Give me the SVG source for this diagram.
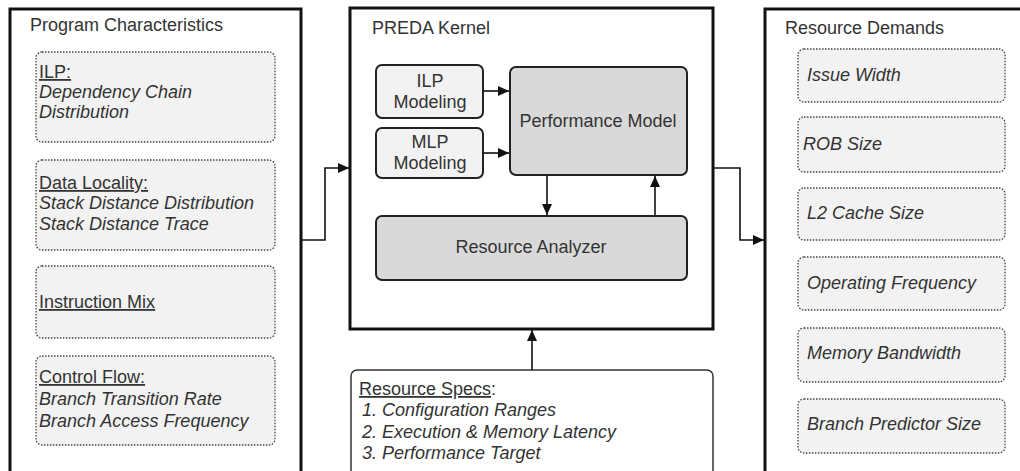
<svg xmlns="http://www.w3.org/2000/svg" width="1020" height="471" viewBox="0 0 1020 471">
  <style>
    text { font-family: "Liberation Sans", Arial, sans-serif; font-size: 18px; fill: #333; }
    .it { font-style: italic; }
    .ul { text-decoration: underline; }
    .mid { text-anchor: middle; }
    .panel { fill: #fff; stroke: #111; stroke-width: 3; }
    .item { fill: #f2f2f2; stroke: #444; stroke-width: 1.3; stroke-dasharray: 1.5 1.5; }
    .sub { fill: #f2f2f2; stroke: #222; stroke-width: 2; }
    .core { fill: #d9d9d9; stroke: #222; stroke-width: 2; }
    .spec { fill: #fff; stroke: #333; stroke-width: 1.5; }
    .wire { fill: none; stroke: #111; stroke-width: 1.6; }
  </style>
  <defs>
    <marker id="arrow" markerUnits="userSpaceOnUse" markerWidth="12" markerHeight="10" refX="11" refY="5" orient="auto">
      <path d="M0,0 L11,5 L0,10 Z" fill="#111"/>
    </marker>
  </defs>

  <rect width="1020" height="471" fill="#fff"/>

  <!-- Program Characteristics panel -->
  <g id="program-characteristics">
    <rect class="panel" x="10" y="9" width="291" height="480"/>
    <text x="30" y="31">Program Characteristics</text>
  </g>
  <g id="ilp">
    <rect class="item" x="36" y="52" width="239" height="90" rx="6"/>
    <text class="ul" x="39" y="78">ILP:</text>
    <text class="it" x="39" y="98">Dependency Chain</text>
    <text class="it" x="39" y="118">Distribution</text>
  </g>
  <g id="data-locality">
    <rect class="item" x="36" y="160" width="239" height="90" rx="6"/>
    <text class="ul" x="39" y="189">Data Locality:</text>
    <text class="it" x="39" y="209">Stack Distance Distribution</text>
    <text class="it" x="39" y="230">Stack Distance Trace</text>
  </g>
  <g id="instruction-mix">
    <rect class="item" x="36" y="266" width="239" height="72" rx="6"/>
    <text class="ul" x="39" y="308">Instruction Mix</text>
  </g>
  <g id="control-flow">
    <rect class="item" x="36" y="356" width="239" height="89" rx="6"/>
    <text class="ul" x="39" y="383">Control Flow:</text>
    <text class="it" x="39" y="405">Branch Transition Rate</text>
    <text class="it" x="39" y="427">Branch Access Frequency</text>
  </g>

  <!-- PREDA Kernel panel -->
  <g id="preda-kernel">
    <rect class="panel" x="350" y="8" width="363" height="321"/>
    <text x="372" y="34">PREDA Kernel</text>
  </g>
  <g id="ilp-modeling">
    <rect class="sub" x="376" y="65" width="107" height="53" rx="6"/>
    <text class="mid" x="430" y="87">ILP</text>
    <text class="mid" x="430" y="108">Modeling</text>
  </g>
  <g id="mlp-modeling">
    <rect class="sub" x="376" y="128" width="107" height="50" rx="6"/>
    <text class="mid" x="430" y="148">MLP</text>
    <text class="mid" x="430" y="169">Modeling</text>
  </g>
  <g id="performance-model">
    <rect class="core" x="510" y="67" width="177" height="108" rx="6"/>
    <text class="mid" x="598" y="127">Performance Model</text>
  </g>
  <g id="resource-analyzer">
    <rect class="core" x="376" y="216" width="311" height="64" rx="6"/>
    <text class="mid" x="531" y="253">Resource Analyzer</text>
  </g>

  <!-- Resource Specs input -->
  <g id="resource-specs">
    <rect class="spec" x="351" y="370" width="362" height="120" rx="6"/>
    <text x="359" y="395"><tspan class="ul">Resource Specs</tspan>:</text>
    <text class="it" x="362" y="416">1. Configuration Ranges</text>
    <text class="it" x="362" y="438">2. Execution &amp; Memory Latency</text>
    <text class="it" x="362" y="459">3. Performance Target</text>
  </g>

  <!-- Resource Demands panel -->
  <g id="resource-demands">
    <rect class="panel" x="765" y="9" width="280" height="480"/>
    <text x="785" y="34">Resource Demands</text>
  </g>
  <g id="issue-width">
    <rect class="item" x="798" y="49" width="207" height="53" rx="6"/>
    <text class="it" x="807" y="81">Issue Width</text>
  </g>
  <g id="rob-size">
    <rect class="item" x="798" y="117" width="207" height="55" rx="6"/>
    <text class="it" x="803" y="150">ROB Size</text>
  </g>
  <g id="l2-cache-size">
    <rect class="item" x="798" y="188" width="207" height="52" rx="6"/>
    <text class="it" x="807" y="219">L2 Cache Size</text>
  </g>
  <g id="operating-frequency">
    <rect class="item" x="798" y="257" width="207" height="53" rx="6"/>
    <text class="it" x="807" y="289">Operating Frequency</text>
  </g>
  <g id="memory-bandwidth">
    <rect class="item" x="798" y="328" width="207" height="54" rx="6"/>
    <text class="it" x="807" y="359">Memory Bandwidth</text>
  </g>
  <g id="branch-predictor-size">
    <rect class="item" x="798" y="399" width="207" height="54" rx="6"/>
    <text class="it" x="807" y="430">Branch Predictor Size</text>
  </g>

  <!-- Connectors -->
  <g id="connectors">
    <path class="wire" d="M302,240 H325 V168 H349" marker-end="url(#arrow)"/>
    <path class="wire" d="M713,168 H740 V240 H764" marker-end="url(#arrow)"/>
    <path class="wire" d="M483,91 H509" marker-end="url(#arrow)"/>
    <path class="wire" d="M483,153 H509" marker-end="url(#arrow)"/>
    <path class="wire" d="M547,175 V215" marker-end="url(#arrow)"/>
    <path class="wire" d="M655,216 V176" marker-end="url(#arrow)"/>
    <path class="wire" d="M532,370 V330" marker-end="url(#arrow)"/>
  </g>
</svg>
